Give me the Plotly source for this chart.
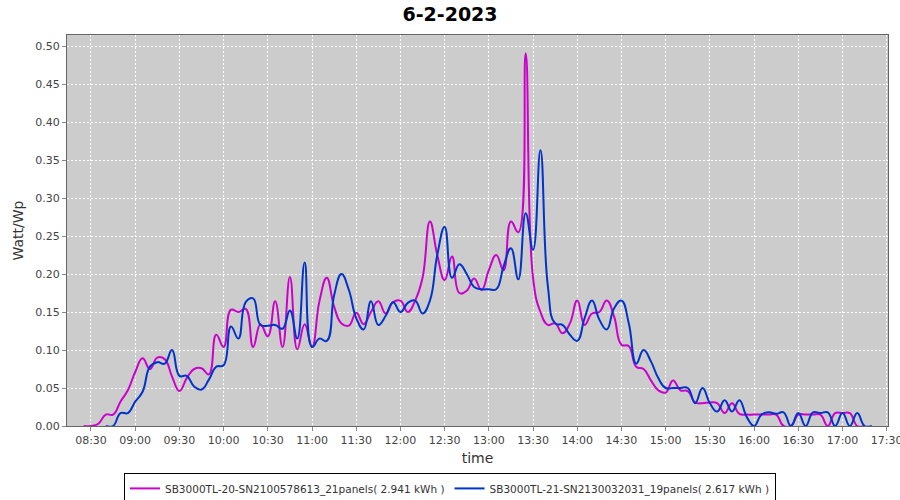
import plotly.graph_objects as go

TITLE = "6-2-2023"

# 5-minute samples, 08:25 .. 17:20
TIMES = [
    "08:25", "08:30", "08:35", "08:40", "08:45", "08:50", "08:55",
    "09:00", "09:05", "09:10", "09:15", "09:20", "09:25", "09:30", "09:35", "09:40", "09:45", "09:50", "09:55",
    "10:00", "10:05", "10:10", "10:15", "10:20", "10:25", "10:30", "10:35", "10:40", "10:45", "10:50", "10:55",
    "11:00", "11:05", "11:10", "11:15", "11:20", "11:25", "11:30", "11:35", "11:40", "11:45", "11:50", "11:55",
    "12:00", "12:05", "12:10", "12:15", "12:20", "12:25", "12:30", "12:35", "12:40", "12:45", "12:50", "12:55",
    "13:00", "13:05", "13:10", "13:15", "13:20", "13:25", "13:30", "13:35", "13:40", "13:45", "13:50", "13:55",
    "14:00", "14:05", "14:10", "14:15", "14:20", "14:25", "14:30", "14:35", "14:40", "14:45", "14:50", "14:55",
    "15:00", "15:05", "15:10", "15:15", "15:20", "15:25", "15:30", "15:35", "15:40", "15:45", "15:50", "15:55",
    "16:00", "16:05", "16:10", "16:15", "16:20", "16:25", "16:30", "16:35", "16:40", "16:45", "16:50", "16:55",
    "17:00", "17:05", "17:10", "17:15", "17:20",
]

SB20_NAME = "SB3000TL-20-SN2100578613_21panels( 2.941 kWh )"
SB20 = [
    0, 0, 0.003, 0.015, 0.015, 0.032, 0.047,
    0.071, 0.089, 0.075, 0.09, 0.088, 0.065, 0.046, 0.063, 0.075, 0.076, 0.068, 0.12,
    0.104, 0.153, 0.15, 0.154, 0.104, 0.134, 0.118, 0.164, 0.104, 0.196, 0.101, 0.134,
    0.104, 0.164, 0.195, 0.157, 0.135, 0.132, 0.149, 0.134, 0.15, 0.164, 0.148, 0.163,
    0.165, 0.15, 0.165, 0.195, 0.269, 0.225, 0.192, 0.223, 0.175, 0.178, 0.194, 0.179,
    0.205, 0.225, 0.205, 0.269, 0.255, 0.49, 0.195, 0.15, 0.133, 0.135, 0.122, 0.135,
    0.165, 0.133, 0.148, 0.15, 0.165, 0.144, 0.107, 0.105, 0.078, 0.075, 0.06, 0.047,
    0.044, 0.06, 0.047, 0.046, 0.031, 0.03, 0.031, 0.03, 0.017, 0.03, 0.016, 0.015,
    0.015, 0.015, 0.015, 0.015, 0, 0, 0.015, 0.015, 0.015, 0.015, 0, 0.017,
    0.017, 0.017, 0, 0, None,
]

SB21_NAME = "SB3000TL-21-SN2130032031_19panels( 2.617 kWh )"
SB21 = [
    None, None, None, 0, 0, 0.017, 0.017,
    0.032, 0.045, 0.078, 0.084, 0.082, 0.1, 0.066, 0.066, 0.052, 0.048, 0.061, 0.078,
    0.08, 0.131, 0.115, 0.163, 0.168, 0.133, 0.132, 0.133, 0.128, 0.152, 0.115, 0.215,
    0.104, 0.115, 0.112, 0.172, 0.2, 0.179, 0.142, 0.127, 0.164, 0.133, 0.145, 0.163,
    0.15, 0.162, 0.165, 0.148, 0.165, 0.225, 0.262, 0.195, 0.213, 0.2, 0.183, 0.18,
    0.18, 0.18, 0.21, 0.234, 0.193, 0.28, 0.232, 0.363, 0.185, 0.135, 0.133, 0.12,
    0.112, 0.142, 0.165, 0.14, 0.127, 0.155, 0.165, 0.135, 0.082, 0.1, 0.085, 0.063,
    0.05, 0.05, 0.05, 0.05, 0.03, 0.05, 0.03, 0.019, 0.034, 0.019, 0.034, 0.012,
    0, 0.015, 0.018, 0.016, 0.018, 0, 0.017, 0, 0.018, 0.017, 0.018, 0,
    0.017, 0, 0.017, 0, 0,
]

DAY = "2023-02-06"
x = [f"{DAY} {t}:00" for t in TIMES]

FONT = "DejaVu Sans"

fig = go.Figure()
fig.add_trace(go.Scatter(
    x=x, y=SB20, name=SB20_NAME, mode="lines",
    line=dict(color="#cc00cc", width=2, shape="spline", smoothing=1.3),
))
fig.add_trace(go.Scatter(
    x=x, y=SB21, name=SB21_NAME, mode="lines",
    line=dict(color="#0033cc", width=2, shape="spline", smoothing=1.3),
))

fig.update_layout(
    width=900, height=500,
    margin=dict(l=67, r=12, t=35, b=74, autoexpand=False),
    paper_bgcolor="white",
    plot_bgcolor="#cccccc",
    font=dict(family=FONT, size=11, color="#444444"),
    title=dict(text=TITLE, x=0.5, xanchor="center", y=0.972, yanchor="middle",
               font=dict(family=FONT, size=19, color="black", weight="bold")),
    showlegend=True,
    legend=dict(
        orientation="h", x=0.4665, xanchor="center", y=-0.12, yanchor="top",
        bordercolor="black", borderwidth=1, itemwidth=30,
        font=dict(family=FONT, size=10.5, color="#333333"),
        tracegroupgap=0,
    ),
)

fig.update_xaxes(
    type="date",
    range=[f"{DAY} 08:13:43", f"{DAY} 17:30:53"],
    dtick=30 * 60 * 1000, tick0=f"{DAY} 08:30:00",
    tickformat="%H:%M", ticklabeloverflow="allow",
    showgrid=True, gridcolor="white", gridwidth=1, griddash="2px,2px",
    showline=True, linecolor="#666666", mirror=True,
    ticks="outside", ticklen=4, tickcolor="#888888",
    title=dict(text="time", font=dict(family=FONT, size=14, color="#333333"), standoff=6),
    zeroline=False, automargin=False,
)
fig.update_yaxes(
    range=[0, 0.5145],
    dtick=0.05, tickformat=".2f",
    showgrid=True, gridcolor="white", gridwidth=1, griddash="2px,2px",
    showline=True, linecolor="#666666", mirror=True,
    ticks="outside", ticklen=4, tickcolor="#888888",
    title=dict(text="Watt/Wp", font=dict(family=FONT, size=14, color="#333333"), standoff=8),
    zeroline=False, automargin=False,
)

# the page has a default 8px body margin; drop it so the figure sits at the corner
fig.write_html(
    "out.html",
    config={"displayModeBar": False},
    post_script="document.body.style.margin = '0';",
)
